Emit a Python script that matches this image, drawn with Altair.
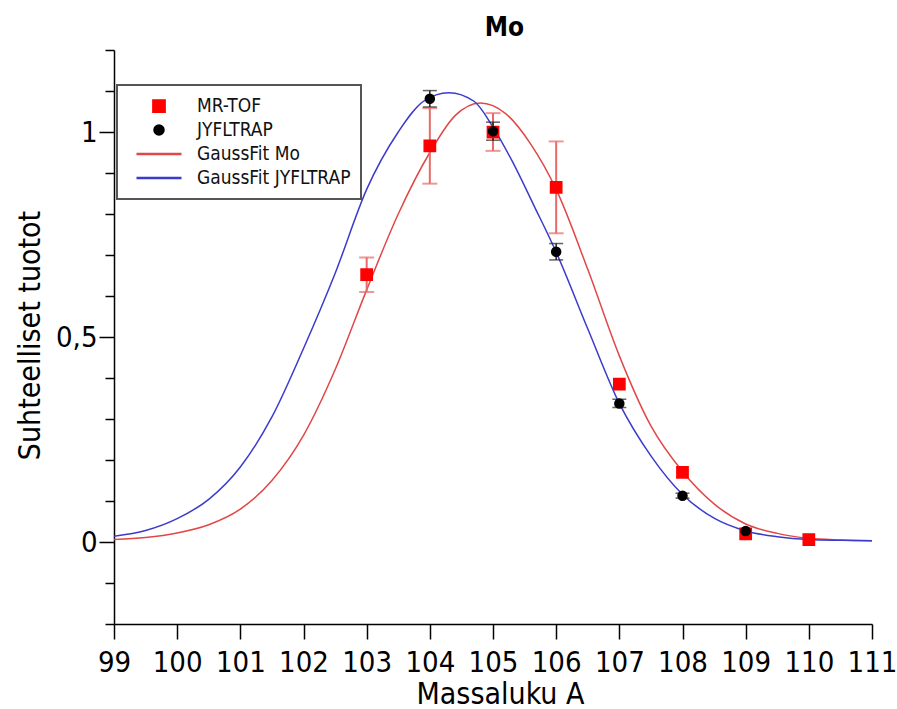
import altair as alt
import pandas as pd

FONT = "DejaVu Sans Condensed, Roboto, DejaVu Sans"

# ---- legend series ----
series_names = ["MR-TOF", "JYFLTRAP", "GaussFit Mo", "GaussFit JYFLTRAP"]
series_colors = ["#ff0000", "#000000", "#e04848", "#3b3bcc"]
series_shapes = [
    "M-0.25,-0.25L0.25,-0.25L0.25,0.25L-0.25,0.25Z",
    "M-0.2,0A0.2,0.2,0,1,1,0.2,0A0.2,0.2,0,1,1,-0.2,0Z",
    "M-1,0L1,0",
    "M-1,0L1,0",
]

# ---- MR-TOF measured yields ----
mr_x = [103, 104, 105, 106, 107, 108, 109, 110]
mr_y = [0.652, 0.966, 1.000, 0.865, 0.385, 0.170, 0.020, 0.006]
mr_err = [0.042, 0.092, 0.046, 0.112, 0.0, 0.0, 0.0, 0.0]

# ---- JYFLTRAP measured yields ----
jy_x = [104, 105, 106, 107, 108, 109]
jy_y = [1.081, 1.002, 0.708, 0.338, 0.113, 0.027]
jy_err = [0.020, 0.022, 0.020, 0.010, 0.006, 0.0]

# ---- Gauss fit curves ----
fit_mo_x = [99.0, 99.5, 100.0, 100.5, 101.0, 101.5, 102.0, 102.5, 103.0, 103.5,
            104.0, 104.4, 104.8, 105.2, 105.6, 106.0, 106.5, 107.0, 107.5, 108.0,
            108.5, 109.0, 109.5, 110.0, 110.5, 111.0]
fit_mo_y = [0.006, 0.011, 0.022, 0.042, 0.080, 0.150, 0.260, 0.420, 0.615, 0.800,
            0.950, 1.040, 1.071, 1.045, 0.970, 0.860, 0.665, 0.454, 0.283, 0.172,
            0.093, 0.044, 0.021, 0.009, 0.005, 0.003]

fit_jy_x = [99.0, 99.5, 100.0, 100.5, 101.0, 101.5, 102.0, 102.5, 103.0, 103.5,
            103.9, 104.3, 104.7, 105.0, 105.3, 105.65, 106.0, 106.5, 107.0, 107.5,
            108.0, 108.5, 109.0, 109.5, 110.0, 110.5, 111.0]
fit_jy_y = [0.014, 0.028, 0.057, 0.104, 0.183, 0.305, 0.472, 0.655, 0.860, 1.000,
            1.075, 1.096, 1.075, 1.012, 0.930, 0.820, 0.707, 0.520, 0.338, 0.210,
            0.116, 0.058, 0.027, 0.013, 0.006, 0.004, 0.003]

x_ticks = list(range(99, 112))
y_ticks = [-0.2, -0.1, 0.0, 0.1, 0.2, 0.3, 0.4, 0.5, 0.6, 0.7, 0.8, 0.9, 1.0, 1.1, 1.2]

df_mr = pd.DataFrame({"A": mr_x, "val": mr_y, "err": mr_err, "series": "MR-TOF"})
df_jy = pd.DataFrame({"A": jy_x, "val": jy_y, "err": jy_err, "series": "JYFLTRAP"})
df_fmo = pd.DataFrame({"A": fit_mo_x, "val": fit_mo_y, "series": "GaussFit Mo"})
df_fjy = pd.DataFrame({"A": fit_jy_x, "val": fit_jy_y, "series": "GaussFit JYFLTRAP"})

xaxis = alt.Axis(
    orient="bottom",
    values=x_ticks, format="d", tickSize=15, tickWidth=1.5, tickColor="black",
    domainColor="black", domainWidth=1.5, grid=False, labelOverlap=False, labelFlush=False,
    labelFont=FONT, labelFontSize=29, labelColor="black", labelPadding=9,
    titleFont=FONT, titleFontSize=30, titleFontWeight="normal", titleColor="black",
    titleX=386, titleY=79, titleBaseline="alphabetic", titleAlign="center",
)
top_axis = alt.Axis(
    orient="top", title="Mo", domain=False, ticks=False, labels=False, grid=False,
    titleFont=FONT, titleFontSize=26, titleFontWeight="bold", titleColor="black",
    titleX=390, titleY=-15, titleBaseline="alphabetic", titleAlign="center",
)
major = "abs(datum.value*2 - round(datum.value*2)) < 0.001 && datum.value > -0.01 && datum.value < 1.01"
yaxis = alt.Axis(
    values=y_ticks, tickWidth=1.5, tickColor="black",
    tickSize={"condition": {"test": major, "value": 15}, "value": 9},
    domainColor="black", domainWidth=1.5, grid=False, labelOverlap=False, labelFlush=False,
    labelExpr="abs(datum.value-0.5)<0.001 ? '0,5' : (abs(datum.value)<0.001 ? '0' : (abs(datum.value-1)<0.001 ? '1' : ''))",
    labelFont=FONT, labelFontSize=29, labelColor="black", labelPadding=2,
    titleFont=FONT, titleFontSize=30, titleFontWeight="normal", titleColor="black",
    titleX=-75, titleY=285, titleAngle=270, titleBaseline="alphabetic", titleAlign="center",
)

xscale = alt.Scale(domain=[99, 111], nice=False, zero=False)
yscale = alt.Scale(domain=[-0.2, 1.2], nice=False, zero=False)


def X(f):
    return alt.X(f, type="quantitative", scale=xscale, axis=xaxis, title="Massaluku A")


def Y(f):
    return alt.Y(f, type="quantitative", scale=yscale, axis=yaxis, title="Suhteelliset tuotot")


LEG = alt.Legend(
    title=None, orient="none", legendX=3, legendY=35, padding=10,
    fillColor="white", strokeColor="#555555",
    labelFont=FONT, labelFontSize=19, labelColor="#111111",
    symbolSize=2025, symbolOffset=8, labelOffset=14, clipHeight=22, rowPadding=2,
    symbolStrokeWidth=2.5,
)
COLOR = alt.Color("series:N", scale=alt.Scale(domain=series_names, range=series_colors), legend=LEG)
SHAPE = alt.Shape("series:N", scale=alt.Scale(domain=series_names, range=series_shapes), legend=LEG)

line_mo = alt.Chart(df_fmo).mark_line(strokeWidth=1.5, interpolate="monotone").encode(
    x=X("A"), y=Y("val"), color=COLOR)
line_jy = alt.Chart(df_fjy).mark_line(strokeWidth=1.5, interpolate="monotone").encode(
    x=X("A"), y=Y("val"), color=COLOR)

err_mo = alt.Chart(df_mr).transform_filter("datum.err > 0").transform_calculate(
    lo="datum.val - datum.err", hi="datum.val + datum.err"
).mark_errorbar(color="#e86a6a", thickness=2, size=15, ticks=True).encode(
    x=X("A"), y=Y("lo"), y2=alt.Y2("hi:Q"))
err_jy = alt.Chart(df_jy).transform_filter("datum.err > 0").transform_calculate(
    lo="datum.val - datum.err", hi="datum.val + datum.err"
).mark_errorbar(color="#222222", thickness=1.5, size=14, ticks=True).encode(
    x=X("A"), y=Y("lo"), y2=alt.Y2("hi:Q"))

pts_mo = alt.Chart(df_mr).mark_point(filled=True, opacity=1, size=2025, stroke="#ff0000",
                                     strokeWidth=1.5).encode(
    x=X("A"), y=Y("val"), color=COLOR, shape=SHAPE)
pts_jy = alt.Chart(df_jy).mark_point(filled=True, opacity=1, size=2025, stroke="#000000",
                                     strokeWidth=1.5).encode(
    x=X("A"), y=Y("val"), color=COLOR, shape=SHAPE)

inner = alt.layer(line_mo, line_jy, err_mo, err_jy, pts_mo, pts_jy)

title_layer = alt.Chart(df_fmo).mark_line(opacity=0).encode(
    x=alt.X("A", type="quantitative", scale=xscale, axis=top_axis),
    y=Y("val"),
)

chart = alt.layer(inner, title_layer).resolve_axis(x="independent").properties(
    width=758, height=574,
    autosize=alt.AutoSizeParams(type="none"),
    padding={"left": 114, "top": 50, "right": 25, "bottom": 85},
).configure_view(stroke=None).configure_legend(strokeWidth=2)

chart.save("out.html", embed_options={"renderer": "svg", "actions": False})
